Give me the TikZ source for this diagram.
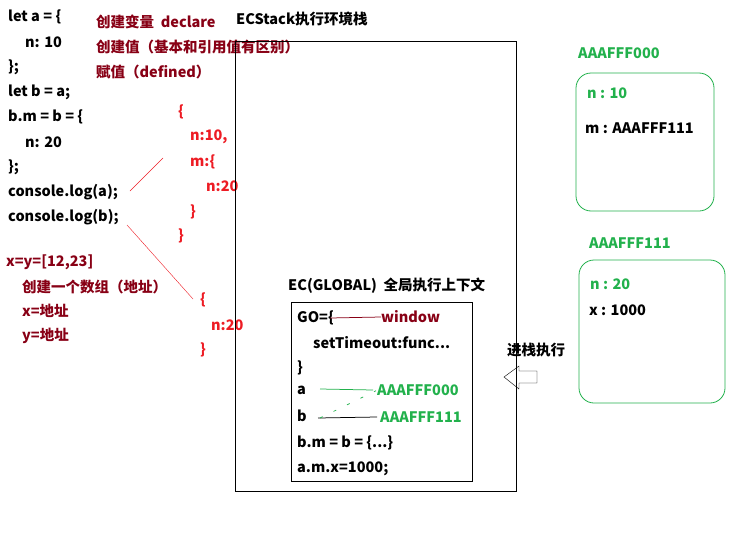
\documentclass[tikz,border=0pt]{standalone}
\usepackage{fontspec}
\setmainfont{Noto Sans CJK SC}
\usepackage{xcolor}
\usetikzlibrary{positioning}
\definecolor{darkred}{HTML}{880015}
\definecolor{jsred}{HTML}{ED1C24}
\definecolor{jsgreen}{HTML}{22B14C}

\begin{document}
\begin{tikzpicture}[x=1pt, y=-1pt,
        % Define the text styles used all over the picture
        code/.style={anchor=west, inner sep=0pt, font=\fontsize{14.5}{17}\selectfont\bfseries},
        note/.style={code, text=darkred},
        obj/.style={code, text=jsred},
        addr/.style={code, text=jsgreen},
        link/.style={line width=0.75pt},
        heap_box/.style={draw=jsgreen, line width=0.8pt, rounded corners=15pt}
    ]
        \useasboundingbox (0,0) rectangle (746,535);

        % --- Source code on the left ---
        \node (code1) [code] at (8, 17)  {let a = \{};
        \node (code2) [code] at (25, 42) {n: 10};
        \node (code3) [code] at (8, 67)  {\};};
        \node (code4) [code] at (8, 92)  {let b = a;};
        \node (code5) [code] at (8, 117) {b.m = b = \{};
        \node (code6) [code] at (25, 142) {n: 20};
        \node (code7) [code] at (8, 167) {\};};
        \node (log_a) [code] at (8, 192) {console.log(a);};
        \node (log_b) [code] at (8, 217) {console.log(b);};

        % --- Notes in dark red ---
        \node (step1) [note] at (96, 22) {创建变量\ \ declare};
        \node (step2) [note] at (96, 47) {创建值（基本和引用值有区别）};
        \node (step3) [note] at (96, 72) {赋值（defined）};

        \node (arr1) [note] at (6, 262)  {x=y=[12,23]};
        \node (arr2) [note] at (22, 287) {创建一个数组（地址）};
        \node (arr3) [note] at (22, 311) {x=地址};
        \node (arr4) [note] at (22, 336) {y=地址};

        % --- Printed objects in red ---
        \node (out_a1) [obj] at (178, 112) {\{};
        \node (out_a2) [obj] at (190, 137) {n:10,};
        \node (out_a3) [obj] at (190, 162) {m:\{};
        \node (out_a4) [obj] at (206, 186) {n:20};
        \node (out_a5) [obj] at (190, 212) {\}};
        \node (out_a6) [obj] at (178, 236) {\}};

        \node (out_b1) [obj] at (200, 300) {\{};
        \node (out_b2) [obj] at (211, 325) {n:20};
        \node (out_b3) [obj] at (200, 350) {\}};

        \coordinate (from_a) at (130, 191);
        \coordinate (to_a)   at (163, 158);
        \coordinate (from_b) at (127, 225);
        \coordinate (to_b)   at (193, 299);
        \draw[jsred, thin] (from_a) -- (to_a);
        \draw[jsred, thin] (from_b) -- (to_b);

        % --- Execution context stack ---
        \node (stack_title) [code] at (236, 19) {ECStack执行环境栈};
        \draw (235, 41) rectangle (516, 491);

        \node (ec_title) [code] at (288, 286) {EC(GLOBAL)\ \ 全局执行上下文};
        \draw (291, 302) rectangle (472, 481);

        \node (go)      [code] at (297, 318) {GO=\{};
        \node (window)  [note] at (381, 317) {window};
        \node (timer)   [code] at (313, 343) {setTimeout:func...};
        \node (go_end)  [code] at (297, 368) {\}};
        \node (var_a)   [code] at (297, 390) {a};
        \node (ref_a)   [addr] at (377, 390) {AAAFFF000};
        \node (var_b)   [code] at (297, 416) {b};
        \node (ref_b)   [addr] at (380, 417) {AAAFFF111};
        \node (stmt1)   [code] at (297, 443) {b.m = b = \{...\}};
        \node (stmt2)   [code] at (297, 469) {a.m.x=1000;};

        \draw[link, darkred] (window.west) -- ([xshift=-4pt]go.east);
        \draw[link, jsgreen] (320, 389) -- ([xshift=-4pt]ref_a.west);
        \draw[link] (318, 418) -- ([xshift=-3pt]ref_b.west);
        \draw[link, jsgreen, dash pattern=on 3pt off 12pt] (320, 418) -- ([xshift=-1pt, yshift=5pt]ref_a.south west);

        % --- Push arrow ---
        \node (push) [code] at (507, 350) {进栈执行};
        \draw (504, 377) -- (519, 366) -- (519, 371) -- (537, 371)
            -- (537, 383) -- (519, 383) -- (519, 389) -- cycle;

        % --- Heap memory ---
        \node (heap0) [addr] at (578, 53) {AAAFFF000};
        \draw[heap_box] (576, 73) rectangle (714, 211);
        \node (heap0_n) [addr] at (587, 93)  {n : 10};
        \node (heap0_m) [code] at (585, 128) {m : AAAFFF111};

        \node (heap1) [addr] at (589, 243) {AAAFFF111};
        \draw[heap_box] (579, 260) rectangle (725, 403);
        \node (heap1_n) [addr] at (590, 284) {n : 20};
        \node (heap1_x) [code] at (589, 310) {x : 1000};

    \end{tikzpicture}
\end{document}
